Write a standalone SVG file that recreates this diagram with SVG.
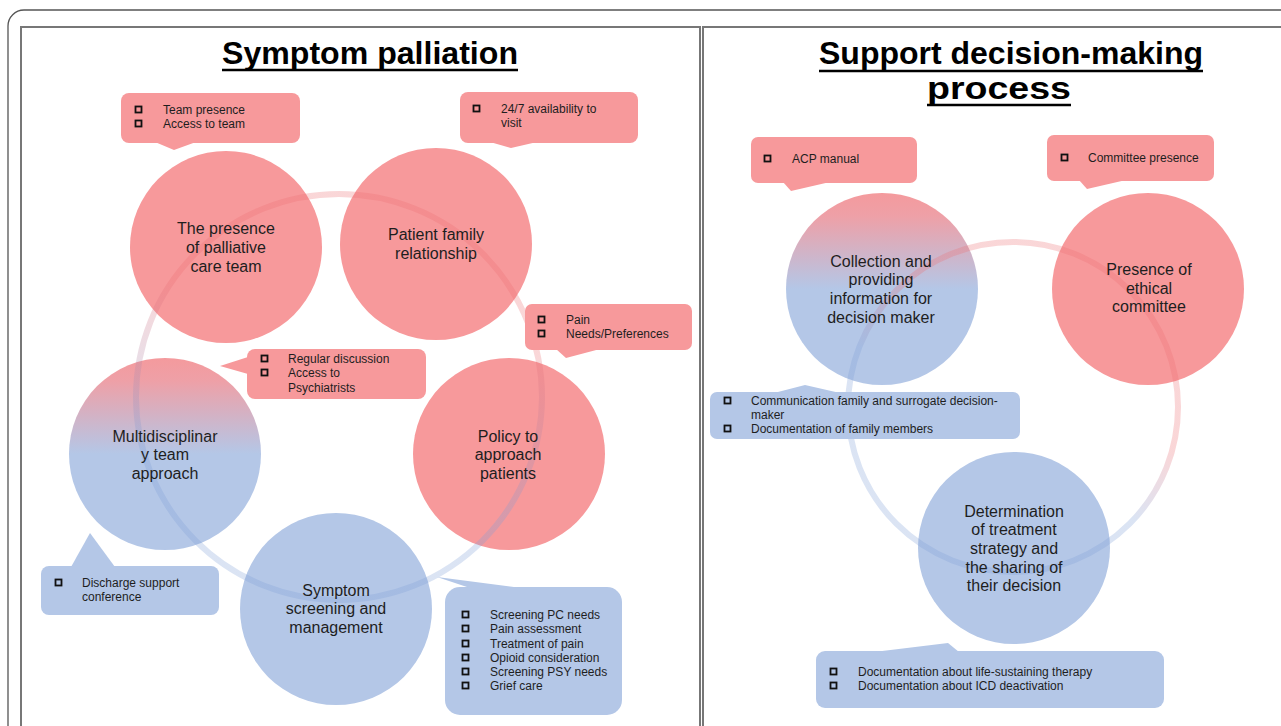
<svg xmlns="http://www.w3.org/2000/svg" width="1281" height="726" viewBox="0 0 1281 726">
<defs>
<style>
.pk{fill:#F7999B}
.bl{fill:#B4C7E7}
.ct{font-family:"Liberation Sans",Arial,sans-serif;font-size:16px;fill:#1e1e1e;text-anchor:middle}
.st{font-family:"Liberation Sans",Arial,sans-serif;font-size:12px;fill:#1e1e1e}
.bx{fill:none;stroke:#111;stroke-width:1.8}
.ttl{font-family:"Liberation Sans",Arial,sans-serif;font-size:31px;font-weight:700;fill:#000;text-anchor:middle}
.ul{stroke:#000;stroke-width:2.5}
.frame{fill:none;stroke:#777;stroke-width:2}
</style>
<linearGradient id="gMix" x1="0" y1="0" x2="0" y2="1">
<stop offset="0" stop-color="#F49A9D"/>
<stop offset="0.12" stop-color="#EEA0A7"/>
<stop offset="0.5" stop-color="#B4C7E7"/>
</linearGradient>
<linearGradient id="gRingL" x1="0.6" y1="0" x2="0.4" y2="1">
<stop offset="0.3" stop-color="#EC6E72"/>
<stop offset="0.7" stop-color="#7E9ED6"/>
</linearGradient>
<linearGradient id="gRingR" x1="0.75" y1="0.1" x2="0.25" y2="0.9">
<stop offset="0.35" stop-color="#EC6E72"/>
<stop offset="0.6" stop-color="#7E9ED6"/>
</linearGradient>
</defs>
<rect width="1281" height="726" fill="#fff"/>
<rect x="8" y="10" width="1290" height="740" rx="16" fill="none" stroke="#555" stroke-width="1.3"/>
<rect class="frame" x="21" y="27" width="679" height="720"/>
<rect class="frame" x="703" y="27" width="600" height="720"/>

<g id="title-left">
<text class="ttl" x="370" y="64" textLength="296" lengthAdjust="spacingAndGlyphs">Symptom palliation</text>
<line class="ul" x1="222" y1="70" x2="518" y2="70"/>
</g>
<g id="title-right">
<text class="ttl" x="1011" y="64" textLength="384" lengthAdjust="spacingAndGlyphs">Support decision-making</text>
<line class="ul" x1="819" y1="71" x2="1203" y2="71"/>
<text class="ttl" x="999" y="99" textLength="144" lengthAdjust="spacingAndGlyphs">process</text>
<line class="ul" x1="927" y1="105" x2="1071" y2="105"/>
</g>

<!-- left panel circles -->
<g id="node-palliative-team">
<ellipse class="pk" cx="226" cy="247" rx="96" ry="96"/>
</g>
<g id="node-patient-family">
<ellipse class="pk" cx="436" cy="244" rx="96" ry="96"/>
</g>
<g id="node-multidisciplinary">
<ellipse cx="165" cy="454" rx="96" ry="96" fill="url(#gMix)"/>
</g>
<g id="node-policy">
<ellipse class="pk" cx="509" cy="454" rx="96" ry="96"/>
</g>
<g id="node-symptom-screening">
<ellipse class="bl" cx="336" cy="609" rx="96" ry="96"/>
</g>

<!-- right panel circles -->
<g id="node-collection">
<ellipse cx="882" cy="289" rx="96" ry="96" fill="url(#gMix)"/>
</g>
<g id="node-ethical">
<ellipse class="pk" cx="1148" cy="289" rx="96" ry="96"/>
</g>
<g id="node-determination">
<ellipse class="bl" cx="1014" cy="548" rx="96" ry="96"/>
</g>

<g id="connectors" fill="none" stroke-width="6" opacity="0.28">
<circle cx="339" cy="397" r="203" stroke="url(#gRingL)"/>
<circle cx="1013" cy="407" r="165" stroke="url(#gRingR)"/>
</g>

<!-- circle labels -->
<g id="labels">
<text class="ct" x="226" y="234">The presence</text>
<text class="ct" x="226" y="253">of palliative</text>
<text class="ct" x="226" y="272">care team</text>
<text class="ct" x="436" y="240">Patient family</text>
<text class="ct" x="436" y="259">relationship</text>
<text class="ct" x="165" y="442">Multidisciplinar</text>
<text class="ct" x="165" y="460">y team</text>
<text class="ct" x="165" y="479">approach</text>
<text class="ct" x="508" y="442">Policy to</text>
<text class="ct" x="508" y="460">approach</text>
<text class="ct" x="508" y="479">patients</text>
<text class="ct" x="336" y="596">Symptom</text>
<text class="ct" x="336" y="614">screening and</text>
<text class="ct" x="336" y="633">management</text>
<text class="ct" x="881" y="267">Collection and</text>
<text class="ct" x="881" y="285">providing</text>
<text class="ct" x="881" y="304">information for</text>
<text class="ct" x="881" y="323">decision maker</text>
<text class="ct" x="1149" y="275">Presence of</text>
<text class="ct" x="1149" y="294">ethical</text>
<text class="ct" x="1149" y="312">committee</text>
<text class="ct" x="1014" y="517">Determination</text>
<text class="ct" x="1014" y="535">of treatment</text>
<text class="ct" x="1014" y="554">strategy and</text>
<text class="ct" x="1014" y="573">the sharing of</text>
<text class="ct" x="1014" y="591">their decision</text>
</g>

<!-- callouts -->
<g id="callout-team">
<rect class="pk" x="121" y="93" width="179" height="50" rx="8"/>
<polygon class="pk" points="155,142 174,150 196,142"/>
<rect class="bx" x="135.5" y="106.5" width="6" height="6"/>
<rect class="bx" x="135.5" y="120.5" width="6" height="6"/>
<text class="st" x="163" y="114">Team presence</text>
<text class="st" x="163" y="128">Access to team</text>
</g>
<g id="callout-availability">
<rect class="pk" x="460" y="92" width="178" height="51" rx="8"/>
<polygon class="pk" points="490,142 511,148 537,142"/>
<rect class="bx" x="473.5" y="105.5" width="6" height="6"/>
<text class="st" x="501" y="113">24/7 availability to</text>
<text class="st" x="501" y="127">visit</text>
</g>
<g id="callout-pain">
<rect class="pk" x="525" y="304" width="167" height="46" rx="7"/>
<polygon class="pk" points="556,349 566,358 600,349"/>
<rect class="bx" x="538.5" y="316.5" width="6" height="6"/>
<rect class="bx" x="538.5" y="330.5" width="6" height="6"/>
<text class="st" x="566" y="324">Pain</text>
<text class="st" x="566" y="338">Needs/Preferences</text>
</g>
<g id="callout-discussion">
<rect class="pk" x="247" y="349" width="179" height="50" rx="8"/>
<polygon class="pk" points="248,357 220,366 248,374"/>
<rect class="bx" x="261.5" y="355.5" width="6" height="6"/>
<rect class="bx" x="261.5" y="369.5" width="6" height="6"/>
<text class="st" x="288" y="363">Regular discussion</text>
<text class="st" x="288" y="377">Access to</text>
<text class="st" x="288" y="392">Psychiatrists</text>
</g>
<g id="callout-discharge">
<rect class="bl" x="41" y="566" width="178" height="49" rx="8"/>
<polygon class="bl" points="71,567 90,533 115,567"/>
<rect class="bx" x="55.5" y="579.5" width="6" height="6"/>
<text class="st" x="82" y="587">Discharge support</text>
<text class="st" x="82" y="601">conference</text>
</g>
<g id="callout-screening">
<rect class="bl" x="445" y="587" width="177" height="128" rx="15"/>
<polygon class="bl" points="437,577 522,588 470,588"/>
<rect class="bx" x="462.5" y="611.5" width="6" height="6"/>
<rect class="bx" x="462.5" y="625.5" width="6" height="6"/>
<rect class="bx" x="462.5" y="640.5" width="6" height="6"/>
<rect class="bx" x="462.5" y="654.5" width="6" height="6"/>
<rect class="bx" x="462.5" y="668.5" width="6" height="6"/>
<rect class="bx" x="462.5" y="682.5" width="6" height="6"/>
<text class="st" x="490" y="619">Screening PC needs</text>
<text class="st" x="490" y="633">Pain assessment</text>
<text class="st" x="490" y="648">Treatment of pain</text>
<text class="st" x="490" y="662">Opioid consideration</text>
<text class="st" x="490" y="676">Screening PSY needs</text>
<text class="st" x="490" y="690">Grief care</text>
</g>

<g id="callout-acp">
<rect class="pk" x="751" y="137" width="166" height="46" rx="7"/>
<polygon class="pk" points="783,182 791,191 830,182"/>
<rect class="bx" x="764.5" y="155.5" width="6" height="6"/>
<text class="st" x="792" y="163">ACP manual</text>
</g>
<g id="callout-committee">
<rect class="pk" x="1047" y="135" width="167" height="46" rx="7"/>
<polygon class="pk" points="1079,180 1087,189 1126,180"/>
<rect class="bx" x="1061.5" y="154.5" width="6" height="6"/>
<text class="st" x="1088" y="162">Committee presence</text>
</g>
<g id="callout-communication">
<rect class="bl" x="710" y="392" width="310" height="47" rx="7"/>
<polygon class="bl" points="774,393 805,385 840,393"/>
<rect class="bx" x="724.5" y="397.5" width="6" height="6"/>
<rect class="bx" x="724.5" y="425.5" width="6" height="6"/>
<text class="st" x="751" y="405">Communication family and surrogate decision-</text>
<text class="st" x="751" y="419">maker</text>
<text class="st" x="751" y="433">Documentation of family members</text>
</g>
<g id="callout-documentation">
<rect class="bl" x="816" y="651" width="348" height="57" rx="9"/>
<polygon class="bl" points="874,652 948,643 959,652"/>
<rect class="bx" x="830.5" y="668.5" width="6" height="6"/>
<rect class="bx" x="830.5" y="682.5" width="6" height="6"/>
<text class="st" x="858" y="676">Documentation about life-sustaining therapy</text>
<text class="st" x="858" y="690">Documentation about ICD deactivation</text>
</g>
</svg>
